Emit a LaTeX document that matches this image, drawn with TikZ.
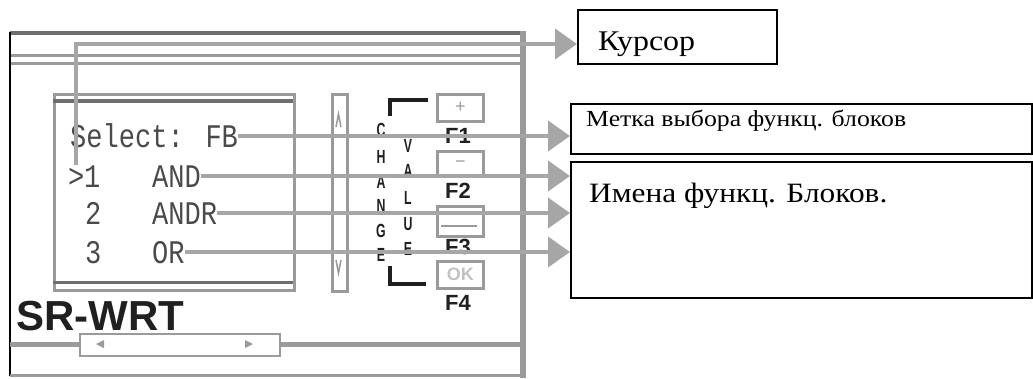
\documentclass[tikz,border=0pt]{standalone}
\usepackage{fontspec}
\setmainfont{Liberation Serif}
\newfontfamily\wideserif[FakeStretch=1.12]{Liberation Serif}
\newfontfamily\lcdfont[FakeStretch=0.82]{Liberation Mono}
\newfontfamily\sansfont{Liberation Sans}
\newfontfamily\condfont[FakeStretch=0.65]{Liberation Sans}
\usetikzlibrary{arrows.meta}
\definecolor{arrgray}{HTML}{A6A6A6}
\definecolor{framedark}{HTML}{6E6E6E}
\definecolor{framegray}{HTML}{9A9A9A}
\definecolor{lcdtext}{HTML}{4A4A4A}
\definecolor{inkdark}{HTML}{202020}
\tikzset{
  ptr/.style={draw=arrgray, line width=4pt, -{Triangle[length=22pt,width=30pt]}},
  lcd/.style={font=\lcdfont\fontsize{33}{33}\selectfont, text=lcdtext, inner sep=0pt,
              anchor=base west, text height=22pt, text depth=0pt},
  btn/.style={draw=framegray, line width=2.5pt, fill=white, inner sep=0pt, anchor=north west,
              minimum width=46pt, font=\sansfont\fontsize{18}{18}\selectfont, text=framegray},
  flabel/.style={font=\sansfont\bfseries\fontsize{22}{22}\selectfont, text=inkdark, anchor=base, inner sep=0pt},
  vlet/.style={font=\condfont\bfseries\fontsize{19}{19}\selectfont, text=inkdark, inner sep=0pt},
  callout/.style={draw=black, line width=1.5pt, fill=white, inner sep=0pt, anchor=north west},
  calltext/.style={inner sep=0pt, anchor=base west, text=black}
}
\begin{document}
\begin{tikzpicture}[x=1pt,y=-1pt]
\useasboundingbox (0,0) rectangle (1033,378);

% ---- device outer frame
\draw[framedark, line width=4pt] (10,33) -- (523,33);
\draw[framegray, line width=3pt] (10,55) -- (523,55);
\draw[framegray, line width=3pt] (10,63) -- (523,63);
\draw[black, line width=2pt] (10,32) -- (10,376);
\draw[framegray, line width=6pt] (523,31) -- (523,378);
\draw[framegray, line width=3pt] (10,375) -- (523,375);
\draw[framegray, line width=5pt] (10,344) -- (523,344);
\node[draw=framegray, line width=2pt, fill=white, minimum width=200pt, minimum height=22pt,
      inner sep=0pt, anchor=north west] (scroll) at (79,333) {};
\fill[framegray] (96,344) -- (104,340) -- (104,348) -- cycle;
\fill[framegray] (253,344) -- (245,340) -- (245,348) -- cycle;

% ---- LCD screen
\node[draw=framegray, line width=3pt, minimum width=240pt, minimum height=196pt,
      inner sep=0pt, anchor=north west] (lcdscr) at (53,93) {};
\draw[framedark, line width=4pt] (53,101) -- (293,101);
\draw[framedark, line width=3pt] (53,282) -- (293,282);

\node[lcd] (sel) at (70,147) {Select: FB};
\node[lcd] (gt) at (68,187) {>};
\node[lcd] (one) at (84,187) {1};
\node[lcd] (and) at (152,187) {AND};
\node[lcd] (two) at (85,224) {2};
\node[lcd] (andr) at (152,224) {ANDR};
\node[lcd] (three) at (85,263) {3};
\node[lcd] (or) at (152,263) {OR};

\node[font=\sansfont\bfseries\fontsize{42}{42}\selectfont, anchor=base west, inner sep=0pt, text=inkdark]
  (srwrt) at (16,330) {SR-WRT};

% ---- scroll bar
\node[draw=framegray, line width=2.5pt, minimum width=15pt, minimum height=197pt,
      inner sep=0pt, anchor=north west] (vbar) at (331,93) {};
\draw[framegray, line width=1.5pt] (336,127) -- (338.5,114) -- (341,127);
\draw[framegray, line width=1.5pt] (336,260) -- (338.5,273) -- (341,260);

% ---- bracket and vertical words
\draw[inkdark, line width=3.5pt] (390,116) -- (390,100) -- (428,100);
\draw[inkdark, line width=3.5pt] (390,266) -- (390,284) -- (426,284);
\foreach \c/\yy [count=\i] in {C/130,H/157,A/182,N/206,G/231,E/255}
  \node[vlet] (ch\i) at (381,\yy) {\c};
\foreach \c/\yy [count=\i] in {V/146,A/171,L/198,U/224,E/249}
  \node[vlet] (va\i) at (408,\yy) {\c};

% ---- function keys
\node[btn, minimum height=27pt] (b1) at (436,93) {+};
\node[btn, minimum height=25pt] (b2) at (436,150) {−};
\node[btn, minimum height=30pt] (b3) at (436,205) {};
\draw[framegray, line width=2pt] (441,213) -- (477,213);
\draw[framegray, line width=2pt] (441,226) -- (477,226);
\node[btn, minimum height=27pt, font=\sansfont\bfseries\fontsize{18}{18}\selectfont, text=framegray!60] (b4) at (436,260) {OK};
\node[flabel] (f1) at (458,143) {F1};
\node[flabel] (f2) at (458,198) {F2};
\node[flabel] (f3) at (458,254) {F3};
\node[flabel] (f4) at (458,310) {F4};

% ---- callout boxes
\node[callout, minimum width=199pt, minimum height=54pt] (kbox) at (577,9) {};
\node[calltext, font=\wideserif\fontsize{28.5}{28.5}\selectfont] (ktxt) at (598,50) {Курсор};
\node[callout, minimum width=461pt, minimum height=50pt] (mbox) at (570,103) {};
\node[calltext, font=\wideserif\fontsize{23}{23}\selectfont] (mtxt) at (586,126) {Метка выбора функц. блоков};
\node[callout, minimum width=461pt, minimum height=136pt] (ibox) at (570,161) {};
\node[calltext, font=\wideserif\fontsize{28}{28}\selectfont] (itxt) at (589,202) {Имена функц. Блоков.};

% ---- connectors
\coordinate (kin) at (kbox.west |- 0,44);
\draw[ptr] (gt.north) |- (kin);
\draw[ptr] (sel.east) -- (sel.east -| mbox.west);
\draw[ptr] (and.east) -- (and.east -| ibox.west);
\draw[ptr] (andr.east) -- (andr.east -| ibox.west);
\draw[ptr] (or.east) -- (or.east -| ibox.west);
\end{tikzpicture}
\end{document}
